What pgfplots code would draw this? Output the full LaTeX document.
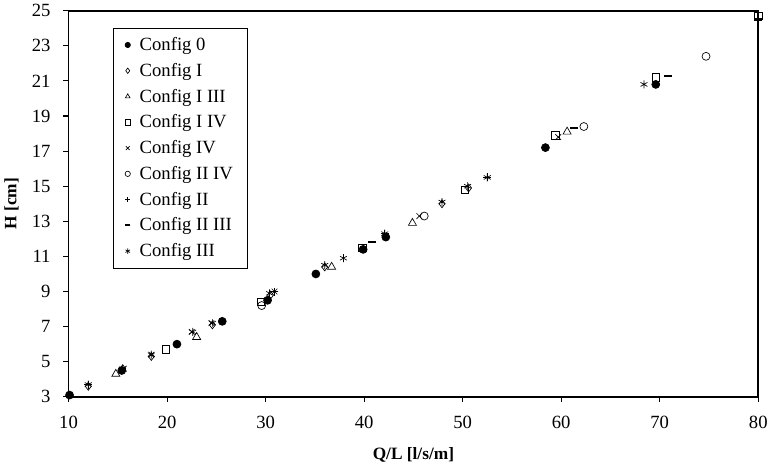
\documentclass[border=0pt]{standalone}
\usepackage{fontspec}
\setmainfont{Liberation Serif}
\usepackage{pgfplots}
\pgfplotsset{compat=1.18}
\begin{document}
\begin{tikzpicture}
\begin{axis}[
    scale only axis,
    width=518pt, height=290pt,
    xmin=10, xmax=80, ymin=3, ymax=25,
    xtick={10,20,...,80},
    ytick={3,5,...,25},
    tick align=outside,
    xtick pos=left, ytick pos=left,
    major tick length=4pt,
    axis line style={line width=1.3pt},
    tick style={line width=0.8pt, black},
    /pgf/number format/assume math mode=true,
    ticklabel style={font=\fontsize{14}{16}\selectfont},
    xticklabel style={yshift=-7pt},
    yticklabel style={xshift=-6pt},
    xlabel={\textbf{Q/L [l/s/m]}},
    ylabel={\textbf{H [cm]}},
    label style={font=\fontsize{13}{15}\selectfont},
    xlabel style={yshift=-7pt},
    ylabel style={yshift=3pt},
    legend style={at={(0.064,0.956)}, anchor=north west, draw=black, line width=0.6pt,
        font=\fontsize{14}{16}\selectfont, row sep=4pt, column sep=5pt,
        inner xsep=9pt, inner ysep=5pt},
    legend cell align=left,
    legend image post style={mark size=2pt},
    every axis plot/.append style={only marks, black, line width=0.5pt},
]
% Config 0
\addplot[mark=*, mark size=3pt] coordinates {(10.1,3.1) (15.4,4.5) (21.0,6.0) (25.6,7.3) (30.2,8.5) (35.1,10.0) (39.9,11.4) (42.2,12.1) (58.4,17.2) (69.6,20.8)};
\addlegendentry{Config 0}
% Config I
\addplot[mark=diamond, mark size=3pt] coordinates {(12.0,3.6) (15.5,4.6) (18.4,5.3) (24.6,7.1) (30.5,8.8) (36.0,10.4) (47.9,14.0) (50.6,14.9)};
\addlegendentry{Config I}
% Config I III
\addplot[mark=triangle, mark size=3.5pt] coordinates {(14.8,4.3) (23.0,6.4) (36.7,10.4) (44.9,12.9) (60.6,18.1)};
\addlegendentry{Config I III}
% Config I IV
\addplot[mark=square, mark size=2.8pt] coordinates {(19.9,5.7) (29.5,8.4) (39.8,11.5) (50.2,14.8) (59.4,17.9) (69.6,21.2) (80.0,24.7)};
\addlegendentry{Config I IV}
% Config IV
\addplot[mark=x, mark size=3pt] coordinates {(15.6,4.6) (18.4,5.4) (22.5,6.7) (24.5,7.2) (30.9,9.0) (45.6,13.3) (59.7,17.8)};
\addlegendentry{Config IV}
% Config II IV
\addplot[mark=o, mark size=3pt] coordinates {(29.6,8.2) (46.1,13.3) (62.3,18.4) (74.7,22.4)};
\addlegendentry{Config II IV}
% Config II
\addplot[mark=+, mark size=3pt] coordinates {(12.0,3.7) (30.9,9.0) (42.1,12.3) (52.5,15.5)};
\addlegendentry{Config II}
% Config II III
\addplot[mark=-, mark size=3pt, mark options={line width=1.6pt}] coordinates {(40.8,11.8) (61.3,18.3) (70.8,21.3) (80.0,24.5)};
\addlegendentry{Config II III}
% Config III
\addplot[mark=asterisk, mark size=3pt] coordinates {(12.0,3.7) (15.5,4.6) (18.4,5.4) (22.6,6.7) (24.6,7.2) (30.4,8.9) (36.0,10.5) (37.9,10.9) (42.1,12.3) (47.9,14.1) (50.5,15.0) (52.5,15.5) (68.4,20.8)};
\addlegendentry{Config III}
\end{axis}
\end{tikzpicture}
\end{document}
